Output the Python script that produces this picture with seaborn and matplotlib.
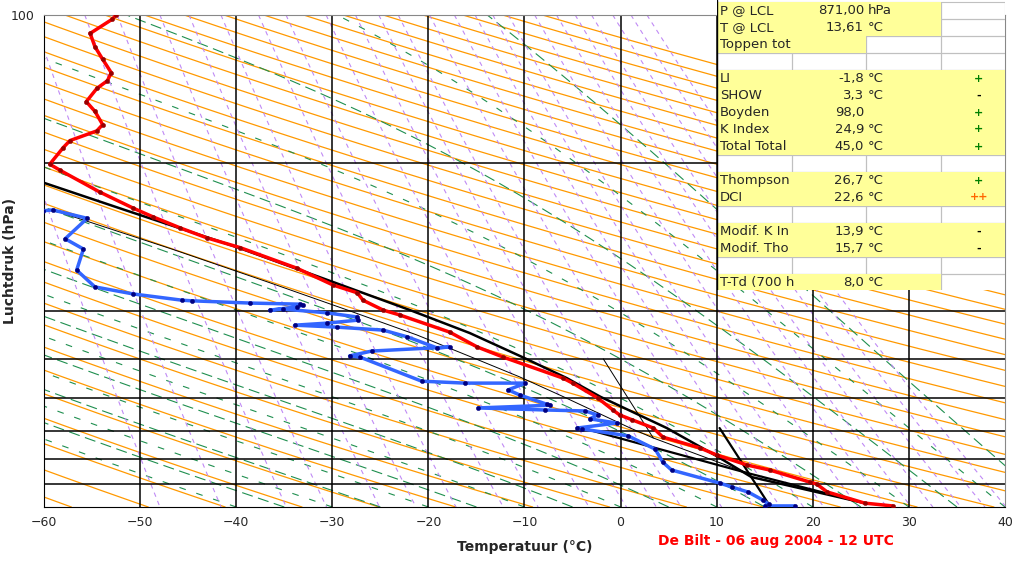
import numpy as np
import pandas as pd
import matplotlib
matplotlib.use("Agg")
import matplotlib.pyplot as plt
from matplotlib.patches import Rectangle
import seaborn as sns

# temperature profile (red)
temp_t = [-52.5, -52.9, -55.2, -54.7, -53.9, -53.0, -53.4, -54.5, -55.6, -54.7, -53.9, -54.5,
          -57.3, -58.0, -59.4, -58.3, -54.2, -50.7, -48.7, -45.8, -43.0, -39.6, -33.7, -29.9,
          -27.4, -26.8, -24.7, -23.0, -17.8, -14.9, -12.2, -6.0, -5.0, -2.4, -0.8, -0.1, 1.2,
          3.4, 4.4, 8.3, 10.0, 13.2, 15.5, 19.7, 20.4, 21.5, 25.4, 28.3]
temp_p = [100, 102, 109, 116, 123, 131, 136, 141, 150, 157, 167, 172,
          180, 186, 201, 207, 229, 247, 257, 271, 284, 297, 327, 354,
          367, 380, 398, 407, 441, 473, 496, 547, 560, 600, 635, 650, 665,
          691, 721, 759, 784, 822, 841, 890, 898, 932, 982, 995]

# dewpoint profile (blue)
dew_t = [-60.1, -59.1, -55.5, -57.8, -55.9, -56.6, -54.7, -50.7, -45.6, -44.6, -38.6, -33.4,
         -33.0, -33.7, -36.5, -35.1, -30.6, -27.4, -27.3, -30.6, -33.9, -29.5, -24.7, -22.2,
         -19.1, -17.8, -25.9, -28.2, -27.1, -20.7, -16.2, -9.9, -11.7, -10.5, -7.7, -7.3,
         -14.8, -7.9, -3.7, -2.4, -3.2, -0.4, -4.5, -4.0, 0.8, 3.6, 4.4, 5.3, 10.3, 11.6,
         13.3, 14.8, 15.4, 15.0, 18.1]
dew_p = [250, 249, 259, 285, 299, 330, 357, 369, 380, 381, 385, 387,
         389, 392, 398, 396, 403, 411, 417, 423, 427, 431, 437, 451,
         475, 473, 482, 493, 496, 555, 560, 560, 578, 592, 618, 621,
         629, 635, 638, 650, 662, 675, 691, 694, 717, 763, 811, 841, 894, 911,
         933, 968, 986, 995, 995]

# parcel curve (thick black)
parcel_t = [-60.1, -51.6, -39.8, -29.9, -21.9, -15.7, -10.2, -5.6, -2.1, 4.8, 10.0, 13.6, 25.4]
parcel_p = [219, 249, 297, 349, 398, 443, 496, 547, 597, 691, 788, 869, 982]

# thin helper curve
thin_t = [-59.1, -46.7, -36.7, -28.4, -21.2, -15.5, -10.5, -6.1, 1.0, 3.4, 13.2]
thin_p = [249, 299, 349, 398, 447, 496, 544, 595, 691, 724, 853]

# other construction lines
line_a_t = [-4.0, 13.2, 25.4]
line_a_p = [691, 853, 982]
line_b_t = [10.3, 15.4]
line_b_p = [691, 986]
line_c_t = [-1.8, 3.4]
line_c_p = [500, 724]

table_rows = [("P @ LCL", "871,00", "hPa", ""), ("T @ LCL", "13,61", "°C", ""),
              ("Toppen tot", "", "", ""), ("", "", "", ""),
              ("LI", "-1,8", "°C", "+"), ("SHOW", "3,3", "°C", "-"),
              ("Boyden", "98,0", "", "+"), ("K Index", "24,9", "°C", "+"),
              ("Total Total", "45,0", "°C", "+"), ("", "", "", ""),
              ("Thompson", "26,7", "°C", "+"), ("DCI", "22,6", "°C", "++"),
              ("", "", "", ""), ("Modif. K In", "13,9", "°C", "-"),
              ("Modif. Tho", "15,7", "°C", "-"), ("", "", "", ""),
              ("T-Td (700 h", "8,0", "°C", "")]

sns.set_style("white")
plt.rcParams['font.family'] = ['DejaVu Sans']

fig = plt.figure(figsize=(10.2, 5.61), dpi=100)
ax = fig.add_axes([44 / 1020, 1 - 507 / 561, 961 / 1020, 492 / 561])

# background: dry adiabats, moist adiabats, mixing ratio lines
p = np.logspace(2, 3, 200)
for theta in np.arange(200, 520, 8):
    ax.plot(theta * (p / 1000) ** 0.286 - 273.15, p, color="#ff9900", lw=0.9, zorder=1)

Rd, cp, Lv, eps = 287.0, 1004.0, 2.5e6, 0.622
def rs(T, pp):
    e = 6.112 * np.exp(17.67 * (T - 273.15) / (T - 29.65))
    return eps * e / (pp - e)
pg = np.linspace(1000, 100, 400)
for i, t0 in enumerate(np.arange(-40, 46, 5)):
    T = t0 + 273.15
    ts = [T]
    for k in range(1, len(pg)):
        r = rs(T, pg[k - 1])
        dTdp = (Rd * T + Lv * r) / (cp + Lv ** 2 * r * eps / (Rd * T ** 2)) / pg[k - 1]
        T = T + dTdp * (pg[k] - pg[k - 1])
        ts.append(T)
    ax.plot(np.array(ts) - 273.15, pg, color="#1f8f4f", lw=0.8,
            ls=(0, (10, 5)) if i % 2 else (0, (6, 10)), zorder=1)

for w in [0.05, 0.1, 0.2, 0.3, 0.5, 0.7, 1, 1.5, 2, 3, 4, 5, 6, 8, 10, 12, 14, 16, 20, 24, 28, 32, 38, 44, 50]:
    e = w * p / (622 + w)
    a = np.log(e / 6.112)
    ax.plot(243.5 * a / (17.67 - a), p, color="#c08af5", lw=0.8, ls=(0, (4, 4)), zorder=1)

# grid
for x in range(-50, 40, 10):
    ax.axvline(x, color="black", lw=1.1, zorder=2)
for y in [200, 400, 500, 600, 700, 800, 900]:
    ax.axhline(y, color="black", lw=1.1, zorder=2)

def prof(t, pp, color, lw, marker_color=None):
    df = pd.DataFrame({"T": t, "p": pp})
    sns.lineplot(data=df, x="T", y="p", sort=False, estimator=None, color=color, lw=lw, ax=ax, zorder=4)
    if marker_color:
        sns.scatterplot(data=df, x="T", y="p", color=marker_color, s=10, edgecolor=None, ax=ax, zorder=5)

prof(thin_t, thin_p, "black", 0.7)
prof(line_c_t, line_c_p, "black", 0.7)
prof(line_a_t, line_a_p, "black", 1.6)
prof(line_b_t, line_b_p, "black", 1.6)
prof(parcel_t, parcel_p, "black", 1.8)
prof(dew_t, dew_p, "#3366ff", 2.5, "#000080")
prof(temp_t, temp_p, "red", 2.5, "#990000")

ax.set_yscale("log")
ax.set_xlim(-60, 40)
ax.set_ylim(1000, 100)
ax.set_xticks(range(-60, 41, 10))
ax.set_yticks([100])
ax.set_yticklabels(["100"])
ax.yaxis.set_minor_locator(matplotlib.ticker.NullLocator())
ax.tick_params(labelsize=9, length=3)
ax.set_xlabel("Temperatuur (°C)", fontsize=10, fontweight="bold", labelpad=8)
ax.set_ylabel("Luchtdruk (hPa)", fontsize=10, fontweight="bold", labelpad=2)
ax.yaxis.set_label_coords(-0.028, 0.5)
for s in ["bottom", "left"]:
    ax.spines[s].set_color("black")
for s in ["top", "right"]:
    ax.spines[s].set_color("#888888")
fig.text(776 / 1020, 1 - 541 / 561, "De Bilt - 06 aug 2004 - 12 UTC", color="red",
         fontsize=10, fontweight="bold", ha="center", va="center")

# info table
tx = fig.add_axes([717 / 1020, 1 - 290 / 561, 288 / 1020, 290 / 561])
tx.set_xlim(0, 288)
tx.set_ylim(290, 0)
tx.axis("off")
cols = [0, 75, 149, 224, 288]
rh = 17
tx.add_patch(Rectangle((0, 0), 288, 290, facecolor="white", edgecolor="none"))
for i in range(17):
    for j in range(4):
        tx.add_patch(Rectangle((cols[j], 2 + i * rh), cols[j + 1] - cols[j], rh,
                               facecolor="none", edgecolor="#c0c0c0", lw=0.8))
yellow = {0: 3, 1: 3, 2: 2, 4: 4, 5: 4, 6: 4, 7: 4, 8: 4, 10: 4, 11: 4, 13: 4, 14: 4, 16: 3}
for i, n in yellow.items():
    tx.add_patch(Rectangle((0, 2 + i * rh), cols[n], rh, facecolor="#ffff99", edgecolor="none"))
tx.plot([0, 0], [0, 290], color="black", lw=1)
for i, (lab, val, unit, sig) in enumerate(table_rows):
    yc = 2 + i * rh + rh / 2
    tx.text(3, yc, lab, fontsize=9.5, va="center", ha="left")
    tx.text(147, yc, val, fontsize=9.5, va="center", ha="right")
    tx.text(151, yc, unit, fontsize=9.5, va="center", ha="left")
    if sig:
        c = "#ff6600" if sig == "++" else ("#008000" if sig == "+" else "black")
        tx.text(262, yc, sig, fontsize=8, va="center", ha="center", color=c, fontweight="bold")

fig.savefig("out.png", dpi=100)
